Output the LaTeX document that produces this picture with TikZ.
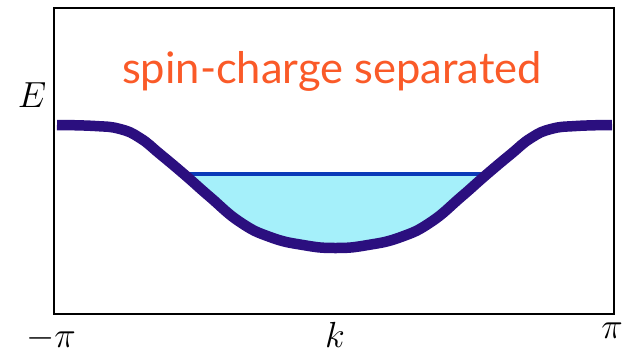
\documentclass[tikz,border=0pt]{standalone}
\usepackage{amsmath}
\usepackage{fontspec}
\newfontfamily\labelfont{Lato}
\usepackage{xcolor}
\definecolor{bandcol}{RGB}{43,15,127}
\definecolor{fermicol}{RGB}{10,58,184}
\definecolor{seacol}{RGB}{165,240,250}
\definecolor{titlecol}{RGB}{250,90,40}

\begin{document}
\begin{tikzpicture}[x=1pt, y=-1pt]

        % 0. Page size
        \useasboundingbox (0,0) rectangle (624,357);

        % 1. Define the frame and Fermi level
        \pgfmathsetmacro{\xleft}{54}   % left edge of the frame
        \pgfmathsetmacro{\xright}{614} % right edge of the frame
        \pgfmathsetmacro{\ytop}{8}
        \pgfmathsetmacro{\ybot}{314}
        \pgfmathsetmacro{\yfermi}{174} % filled up to here

        \coordinate (kFl) at (184, \yfermi); % left Fermi point
        \coordinate (kFr) at (487, \yfermi); % right Fermi point

        \tikzset{band/.style={line width=10.5pt, bandcol, line join=round},
                 fermi/.style={line width=4pt, fermicol},
                 axislabel/.style={font=\huge, scale=1.75}}

        % the dispersion, symmetric about k=0
        \def\bandpath{plot[smooth, tension=0.8] coordinates {
            (57,125) (95,126) (120,129) (140,138) (160,154) (185,175) (210,197)
            (240,222) (270,237) (303,245) (335.5,248) (368,245) (401,237)
            (431,222) (461,197) (486,175) (511,154) (531,138) (551,129) (576,126) (612,125)}}

        % 2. Filled states below the Fermi level
        \begin{scope}
            \clip (0,\yfermi) rectangle (624,357);
            \fill[seacol] \bandpath -- cycle;
        \end{scope}
        \draw[fermi] (kFl) -- (kFr);

        % 3. The band itself
        \draw[band] \bandpath;

        % 4. Frame
        \draw[line width=2pt, black] (\xleft,\ytop) rectangle (\xright,\ybot);

        % 5. Labels
        \node[axislabel] (Elabel) at (32,95) {$E$};
        \node[axislabel] (kmin) at (51,338) {$-\pi$};
        \node[axislabel] (klabel) at (335,335) {$k$};
        \node[axislabel] (kmax) at (612,331) {$\pi$};

        \node[anchor=base, titlecol, font=\labelfont\fontsize{43.5}{43.5}\selectfont] (title)
            at (332,83) {spin-charge separated};

    \end{tikzpicture}
\end{document}
